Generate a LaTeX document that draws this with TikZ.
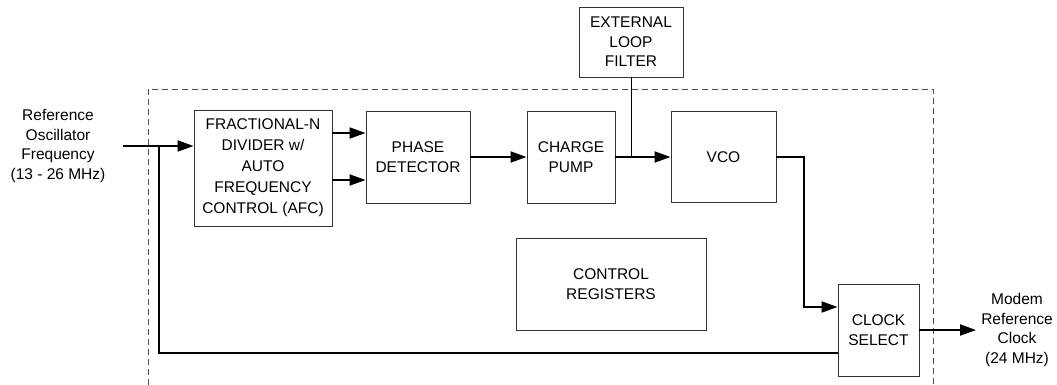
\documentclass[tikz,border=0pt]{standalone}
\usepackage{fontspec}
\setmainfont{Liberation Sans}
\usetikzlibrary{arrows.meta}

\begin{document}
\begin{tikzpicture}[x=1pt, y=-1pt,
	blk/.style={draw=black!80, line width=0.9pt, align=center, inner sep=0pt,
		font=\fontsize{15.5}{19.5}\selectfont},
	sig/.style={line width=1.9pt, -{Triangle[length=16pt,width=11pt]}},
	wire/.style={line width=1.9pt},
	lbl/.style={align=center, inner sep=0pt, font=\fontsize{15.5}{19.5}\selectfont}]
	\useasboundingbox (0,0) rectangle (1057,385);
	% chip outline, open at the bottom
	\draw[black!70, line width=0.9pt, dash pattern=on 6pt off 4pt] (148,385) -- (148,89) -- (933,89) -- (933,385);
	% blocks
	\node[blk, minimum width=138pt, minimum height=116pt, font=\fontsize{15.5}{21}\selectfont] (frac) at (263,168) {FRACTIONAL-N\\DIVIDER w/\\AUTO\\FREQUENCY\\CONTROL (AFC)};
	\node[blk, minimum width=104pt, minimum height=92pt] (pd) at (418,157) {PHASE\\DETECTOR};
	\node[blk, minimum width=88pt, minimum height=92pt] (cp) at (571,157) {CHARGE\\PUMP};
	\node[blk, minimum width=105pt, minimum height=91pt] (vco) at (723.5,157) {VCO};
	\node[blk, minimum width=104pt, minimum height=70pt] (lf) at (631,42) {EXTERNAL\\LOOP\\FILTER};
	\node[blk, minimum width=190pt, minimum height=92pt] (cr) at (611,284) {CONTROL\\REGISTERS};
	\node[blk, minimum width=81pt, minimum height=92pt] (cs) at (878.5,330) {CLOCK\\SELECT};
	% outside labels
	\node[lbl] (reflbl) at (58,146) {Reference\\Oscillator\\Frequency\\(13 - 26 MHz)};
	\node[lbl] (modem) at (1017,330) {Modem\\Reference\\Clock\\(24 MHz)};
	\coordinate (in) at (123,146);
	\coordinate (split) at (159,146);
	\coordinate (fb) at (159,353);
	\coordinate (turn) at (804,307);
	\coordinate (out) at (976,330);
	% signal path
	\draw[sig] (in) -- (in -| frac.west);
	\draw[sig] (frac.east |- 0,133) -- (pd.west |- 0,133);
	\draw[sig] (frac.east |- 0,180) -- (pd.west |- 0,180);
	\draw[sig] (pd.east) -- (cp.west);
	\draw[sig] (cp.east) -- (vco.west);
	\draw[line width=0.9pt] (lf.south) -- (lf.south |- cp.east);
	\draw[sig] (vco.east) -| (turn) -- (turn -| cs.west);
	\draw[wire] (split) -- (fb) -- (fb -| cs.west);
	\draw[sig] (cs.east) -- (out);
\end{tikzpicture}
\end{document}
